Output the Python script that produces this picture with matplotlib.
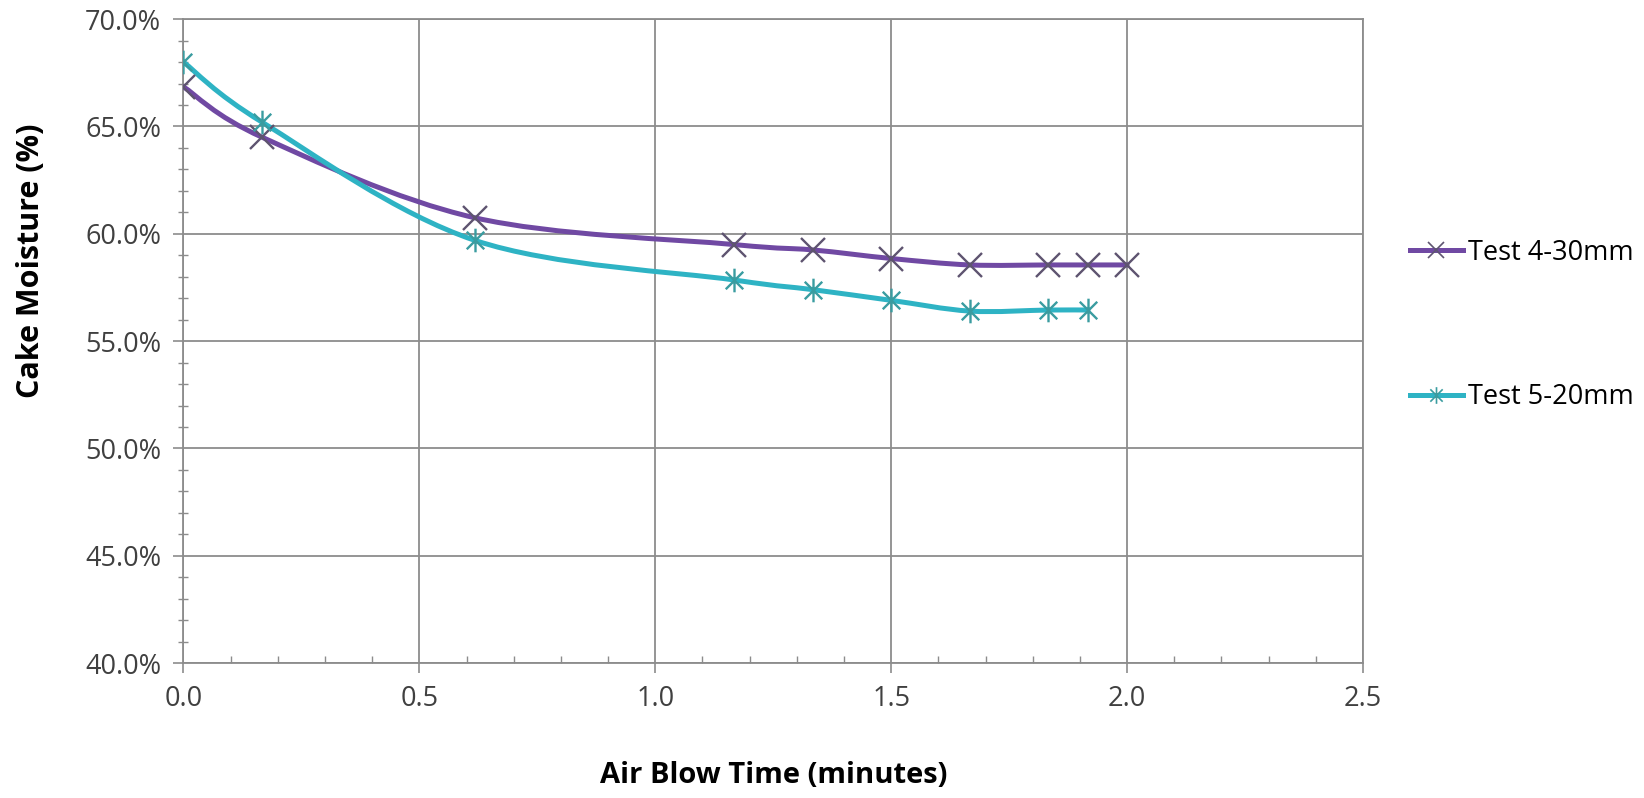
import numpy as np
import matplotlib.pyplot as plt
from matplotlib.path import Path
from matplotlib.patches import PathPatch
from matplotlib.lines import Line2D
from matplotlib.ticker import MultipleLocator, FuncFormatter

plt.rcParams['font.family'] = ['Open Sans', 'DejaVu Sans']

# air blow time (minutes) and cake moisture (%)
t4_time = [0.0, 1/6, 0.617, 7/6, 4/3, 1.5, 5/3, 11/6, 23/12, 2.0]
t4_moist = [66.85, 64.5, 60.75, 59.5, 59.25, 58.85, 58.55, 58.55, 58.55, 58.55]
t5_time = [0.0, 1/6, 0.617, 7/6, 4/3, 1.5, 5/3, 11/6, 23/12]
t5_moist = [68.0, 65.2, 59.7, 57.85, 57.4, 56.9, 56.4, 56.45, 56.45]
labels = ['Test 4-30mm', 'Test 5-20mm']

purple = '#7049A3'
cyan = '#2EB3C4'
purple_mk = '#5E5470'
cyan_mk = '#3A9CA0'

# Excel-like "star" marker: X plus vertical bar
star = Path([(-1, -1), (1, 1), (-1, 1), (1, -1), (0, -1.35), (0, 1.35)],
            [Path.MOVETO, Path.LINETO, Path.MOVETO, Path.LINETO, Path.MOVETO, Path.LINETO])


def smooth_path(x, y):
    # bezier smoothing the way excel does it (catmull-rom style control points)
    p = np.column_stack([x, y])
    n = len(p)
    verts = [p[0]]
    codes = [Path.MOVETO]
    for i in range(n - 1):
        p0 = p[i - 1] if i > 0 else p[i]
        p1 = p[i]
        p2 = p[i + 1]
        p3 = p[i + 2] if i + 2 < n else p[i + 1]
        verts += [p1 + (p2 - p0) / 6, p2 - (p3 - p1) / 6, p2]
        codes += [Path.CURVE4] * 3
    return Path(verts, codes)


fig = plt.figure(figsize=(16.44, 7.98), dpi=100)
ax = fig.add_axes([0.1116, 0.169, 0.7175, 0.807])

ax.add_patch(PathPatch(smooth_path(t4_time, t4_moist), fill=False, ec=purple, lw=3.6, zorder=3, capstyle='round'))
ax.add_patch(PathPatch(smooth_path(t5_time, t5_moist), fill=False, ec=cyan, lw=3.6, zorder=3, capstyle='round'))
ax.plot(t4_time, t4_moist, ls='none', marker='x', ms=17, mew=1.7, mec=purple_mk, zorder=4)
ax.plot(t5_time, t5_moist, ls='none', marker=star, ms=17, mew=1.7, mec=cyan_mk, zorder=4)

ax.set_xlim(0, 2.5)
ax.set_ylim(40, 70)
ax.xaxis.set_major_locator(MultipleLocator(0.5))
ax.xaxis.set_minor_locator(MultipleLocator(0.1))
ax.yaxis.set_major_locator(MultipleLocator(5))
ax.yaxis.set_minor_locator(MultipleLocator(1))
ax.xaxis.set_major_formatter(FuncFormatter(lambda v, p: '%.1f' % v))
ax.yaxis.set_major_formatter(FuncFormatter(lambda v, p: '%.1f%%' % v))

ax.grid(True, which='major', color='#8c8c8c', lw=1.3)
for s in ax.spines.values():
    s.set_color('#8c8c8c')
    s.set_linewidth(1.3)
ax.tick_params(which='major', direction='out', length=7, width=1.2, color='#8c8c8c',
               labelsize=19.5, labelcolor='#404040', pad=9)
ax.tick_params(axis='y', which='minor', direction='inout', length=7, width=1, color='#8c8c8c')
ax.tick_params(axis='x', which='minor', direction='in', length=5, width=1, color='#8c8c8c')

ax.set_xlabel('Air Blow Time (minutes)', fontsize=21, fontweight='bold', va='center')
ax.set_ylabel('Cake Moisture (%)', fontsize=22, fontweight='bold', va='center')
ax.xaxis.set_label_coords(0.5, -0.175)
ax.yaxis.set_label_coords(-0.129, 0.625)

handles = [Line2D([], [], color=purple, lw=3.6, marker='x', ms=12, mew=1.2, mec=purple_mk),
           Line2D([], [], color=cyan, lw=3.6, marker=star, ms=12, mew=1.2, mec=cyan_mk)]
fig.legend(handles, labels, loc='center left', bbox_to_anchor=(1410 / 1644, 1 - 325 / 798),
           frameon=False, fontsize=19.5, labelspacing=4.3, handlelength=1.95, handletextpad=0.2,
           numpoints=1, borderpad=0, borderaxespad=0)

fig.savefig('out.png', dpi=100, facecolor='white')
